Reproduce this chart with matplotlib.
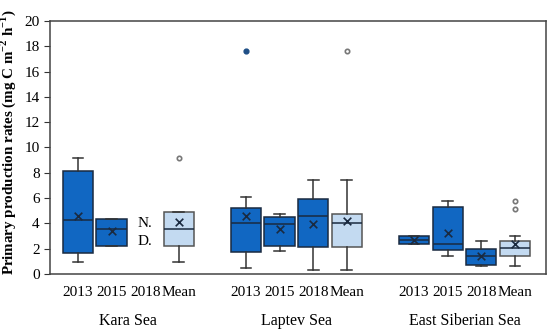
import numpy as np
import matplotlib
matplotlib.use('Agg')
import matplotlib.pyplot as plt

plt.rcParams['font.family'] = 'Liberation Serif'
plt.rcParams['mathtext.fontset'] = 'custom'
plt.rcParams['mathtext.rm'] = 'Liberation Serif'
plt.rcParams['mathtext.bf'] = 'Liberation Serif:bold'

# data (mg C m-2 h-1)
seas = ['Kara Sea', 'Laptev Sea', 'East Siberian Sea']
years = ['2013', '2015', '2018', 'Mean']
positions = [0, 1, 3, 5, 6, 7, 8, 10, 11, 12, 13]
kinds = ['y', 'y', 'm', 'y', 'y', 'y', 'm', 'y', 'y', 'y', 'm']
whislo = [0.95, 2.22, 0.95, 0.48, 1.8, 0.32, 0.32, 2.4, 1.43, 0.63, 0.63]
q1 = [1.67, 2.22, 2.22, 1.75, 2.2, 2.14, 2.14, 2.4, 1.9, 0.7, 1.43]
med = [4.3, 3.57, 3.57, 4.05, 3.97, 4.6, 4.05, 2.7, 2.4, 1.43, 2.06]
q3 = [8.1, 4.37, 4.9, 5.24, 4.5, 5.95, 4.76, 3.0, 5.3, 2.0, 2.6]
whishi = [9.2, 4.37, 4.9, 6.1, 4.76, 7.4, 7.4, 3.0, 5.8, 2.6, 3.0]
means = [4.6, 3.4, 4.1, 4.6, 3.57, 3.97, 4.2, 2.7, 3.2, 1.43, 2.38]
fliers = [[], [], [9.2], [17.6], [], [], [17.6], [], [], [], [5.8, 5.16]]

dark = '#1167c2'
light = '#c3daf1'

stats = []
for i in range(len(positions)):
    stats.append(dict(whislo=whislo[i], q1=q1[i], med=med[i], q3=q3[i],
                      whishi=whishi[i], mean=means[i], fliers=[]))

fig = plt.figure(figsize=(5.5, 3.34), dpi=100)
ax = fig.add_axes([0.091, 0.18, 0.902, 0.757])

bp = ax.bxp(stats, positions=positions, widths=0.9, patch_artist=True,
            showmeans=False, showfliers=False, capwidths=0.32,
            medianprops=dict(color='#1a2a40', lw=1.1),
            whiskerprops=dict(color='#333333', lw=1.1),
            capprops=dict(color='#333333', lw=1.1),
            boxprops=dict(edgecolor='#1a2a40', lw=1.1))
for patch, k in zip(bp['boxes'], kinds):
    patch.set_facecolor(dark if k == 'y' else light)
    if k == 'm':
        patch.set_edgecolor('#555555')

ax.scatter(positions, means, marker='x', color='#1a2a40', s=30, lw=1.2, zorder=5)
for p, f, k in zip(positions, fliers, kinds):
    if not f:
        continue
    if k == 'y':
        ax.scatter([p] * len(f), f, s=12, color='#1f4f86', zorder=5)
    else:
        ax.scatter([p] * len(f), f, s=10, facecolor='white', edgecolor='#777777',
                   lw=1.2, zorder=5)

ax.text(2, 4.0, 'N.', ha='center', va='center', fontsize=11)
ax.text(2, 2.6, 'D.', ha='center', va='center', fontsize=11)

ticks = [0, 1, 2, 3, 5, 6, 7, 8, 10, 11, 12, 13]
ax.set_xticks(ticks)
ax.set_xticklabels(years * 3, fontsize=11)
ax.tick_params(axis='x', length=0, pad=9)
ax.set_xlim(-0.83, 13.93)
ax.set_ylim(0, 20)
ax.set_yticks(range(0, 21, 2))
ax.tick_params(axis='y', labelsize=11, length=4, color='#333333')
for c, s in zip([1.5, 6.5, 11.5], seas):
    ax.text(c, -0.185, s, transform=ax.get_xaxis_transform(), ha='center',
            va='center', fontsize=11.5)
for sp in ax.spines.values():
    sp.set_color('#444444')
    sp.set_linewidth(1.1)

ax.set_ylabel(r'Primary production rates (mg C m$^{\mathbf{-2}}$ h$^{\mathbf{-1}}$)',
              fontsize=10.8, fontweight='bold')
ax.yaxis.set_label_coords(-0.064, 0.523)

fig.savefig('out.png', dpi=100)
